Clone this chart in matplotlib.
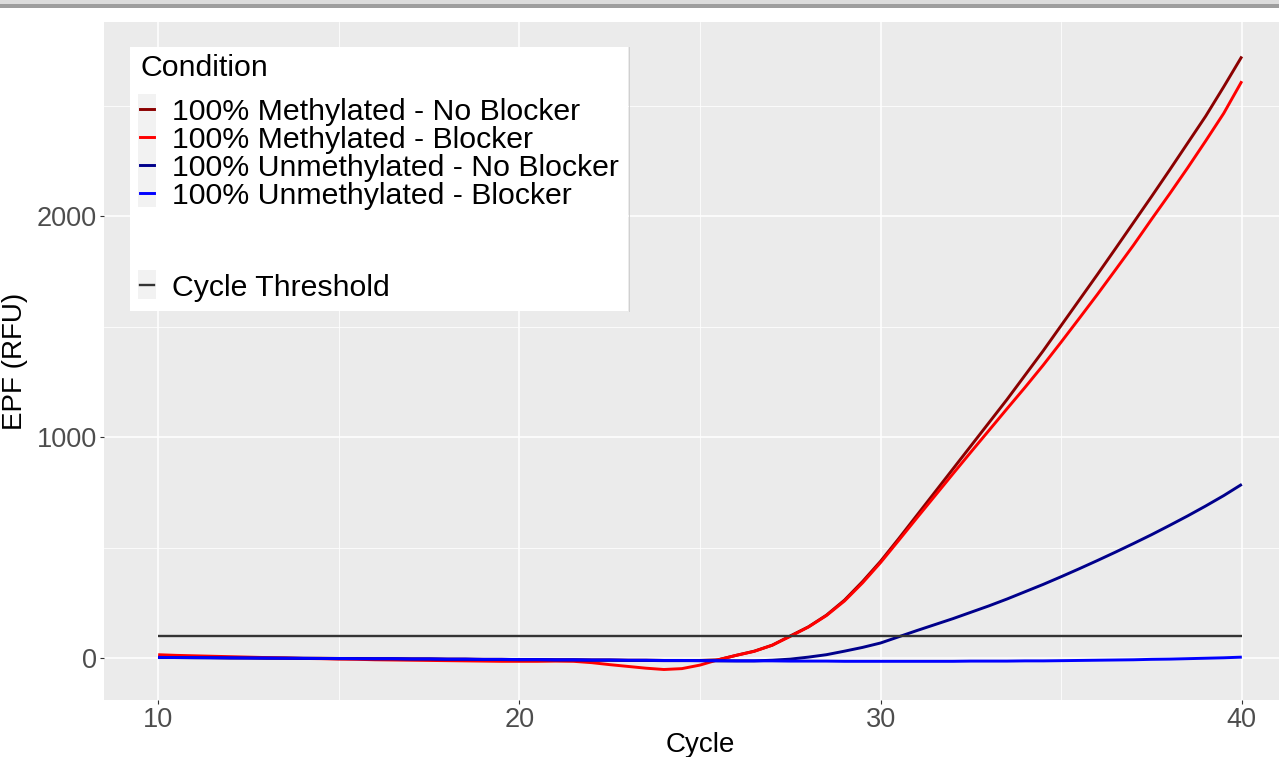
import numpy as np
import matplotlib
matplotlib.use("Agg")
import matplotlib.pyplot as plt
from matplotlib.patches import Rectangle
from matplotlib.lines import Line2D

plt.rcParams['font.family'] = ['Liberation Sans', 'DejaVu Sans']

# amplification curves, read every half cycle from 10 to 40
cycle = np.arange(10, 40.5, 0.5)

meth_no_blocker = [4, 3, 3, 2, 1, 1, 0, 0, -1, -1,
                   -2, -2, -3, -3, -4, -4, -5, -5, -6, -6,
                   -7, -7, -8, -8, -9, -9, -10, -10, -11, -11,
                   -11, -8, 12, 31, 58, 100, 141, 194, 262, 346,
                   438, 540, 645, 750, 855, 960, 1065, 1170, 1280, 1390,
                   1505, 1620, 1735, 1852, 1970, 2088, 2208, 2330, 2452, 2585,
                   2722]
meth_blocker = [15, 12, 10, 8, 6, 4, 2, 0, -2, -3,
                -5, -6, -8, -9, -10, -11, -12, -13, -14, -15,
                -15, -15, -14, -15, -21, -30, -38, -46, -52, -48,
                -32, -8, 12, 30, 58, 98, 140, 192, 258, 340,
                432, 532, 633, 733, 833, 932, 1030, 1128, 1225, 1325,
                1430, 1537, 1645, 1756, 1868, 1985, 2100, 2218, 2340, 2465,
                2610]
unmeth_no_blocker = [2, 2, 1, 1, 0, 0, -1, -1, -2, -2,
                     -3, -3, -4, -4, -5, -5, -6, -6, -7, -7,
                     -8, -8, -9, -9, -10, -10, -11, -11, -12, -12,
                     -12, -13, -13, -13, -10, -5, 4, 15, 31, 48,
                     68, 96, 124, 151, 178, 207, 236, 267, 300, 333,
                     368, 404, 441, 479, 518, 558, 600, 643, 688, 735,
                     786]
unmeth_blocker = [3, 2, 2, 1, 1, 0, 0, -1, -1, -2,
                  -2, -3, -3, -3, -4, -4, -5, -5, -6, -6,
                  -7, -7, -8, -8, -9, -9, -10, -10, -11, -11,
                  -12, -12, -13, -13, -13, -14, -14, -14, -15, -15,
                  -15, -15, -15, -15, -15, -14, -14, -14, -13, -13,
                  -12, -11, -10, -9, -8, -6, -5, -3, -1, 1,
                  4]
threshold = 100

conditions = ["100% Methylated - No Blocker", "100% Methylated - Blocker",
              "100% Unmethylated - No Blocker", "100% Unmethylated - Blocker"]
series = [meth_no_blocker, meth_blocker, unmeth_no_blocker, unmeth_blocker]
colors = ["#8B0000", "#FF0000", "#00008B", "#0000FF"]

W, H = 1279, 757
fig = plt.figure(figsize=(W / 100, H / 100), dpi=100)


def fx(x):
    return x / W


def fy(y):
    return 1 - y / H


# window strip along the top
fig.add_artist(Rectangle((0, fy(4)), 1, 4 / H, transform=fig.transFigure,
                         color="#dcdcdc", lw=0))
fig.add_artist(Rectangle((0, fy(8)), 1, 4 / H, transform=fig.transFigure,
                         color="#9e9e9e", lw=0))

ax = fig.add_axes([fx(104), fy(700), (1296 - 104) / W, (700 - 22) / H])
ax.set_facecolor("#EBEBEB")
for s in ax.spines.values():
    s.set_visible(False)

ax.set_xlim(8.5, 41.5)
ax.set_ylim(-190, 2878)
ax.set_xticks([10, 20, 30, 40])
ax.set_xticks([15, 25, 35], minor=True)
ax.set_yticks([0, 1000, 2000])
ax.set_yticks([500, 1500, 2500], minor=True)
ax.grid(which="major", color="white", lw=1.1)
ax.grid(which="minor", color="white", lw=0.55)
ax.set_axisbelow(True)
ax.tick_params(which="major", length=3, width=0.8, color="#333333",
               labelsize=19.5, labelcolor="#4d4d4d", pad=2)
ax.tick_params(which="minor", length=0)

for vals, col, lab in zip(series, colors, conditions):
    ax.plot(cycle, vals, color=col, lw=2.1, label=lab, solid_capstyle="butt")
# threshold drawn across the cycle range only
ax.plot([cycle[0], cycle[-1]], [threshold, threshold], color="#333333",
        lw=1.7, solid_capstyle="butt")

ax.set_xlabel("Cycle", fontsize=20)
ax.set_ylabel("EPF (RFU)", fontsize=20, labelpad=6)
ax.xaxis.set_label_coords((700 - 104) / (1296 - 104), -0.047)

# legend box drawn by hand
fig.add_artist(Rectangle((fx(130), fy(311)), (628 - 130) / W, (311 - 47) / H,
                         transform=fig.transFigure, facecolor="white",
                         edgecolor="none", zorder=5))
fig.add_artist(Line2D([fx(628.5), fx(628.5)], [fy(47), fy(311)],
                      transform=fig.transFigure, color="#d0d0d0", lw=0.7, zorder=6))
fig.add_artist(Rectangle((fx(138), fy(207)), 18 / W, 113 / H,
                         transform=fig.transFigure, facecolor="#f2f2f2",
                         edgecolor="none", zorder=6))
fig.add_artist(Rectangle((fx(138), fy(299)), 18 / W, 29 / H,
                         transform=fig.transFigure, facecolor="#f2f2f2",
                         edgecolor="none", zorder=6))
fig.text(fx(140), fy(76), "Condition", fontsize=21.8, va="baseline",
         ha="left", zorder=7)

rows = [108.5, 136.5, 164.5, 192.5]
for yc, col, lab in zip(rows, colors, conditions):
    fig.add_artist(Line2D([fx(140), fx(154)], [fy(yc), fy(yc)],
                          transform=fig.transFigure, color=col, lw=2.1, zorder=7))
    fig.text(fx(172), fy(yc + 11), lab, fontsize=21.8, va="baseline",
             ha="left", zorder=7)

fig.add_artist(Line2D([fx(140), fx(154)], [fy(284.5), fy(284.5)],
                      transform=fig.transFigure, color="#333333", lw=1.7, zorder=7))
fig.text(fx(172), fy(295.5), "Cycle Threshold", fontsize=21.8, va="baseline",
         ha="left", zorder=7)

fig.savefig("out.png", dpi=100)
